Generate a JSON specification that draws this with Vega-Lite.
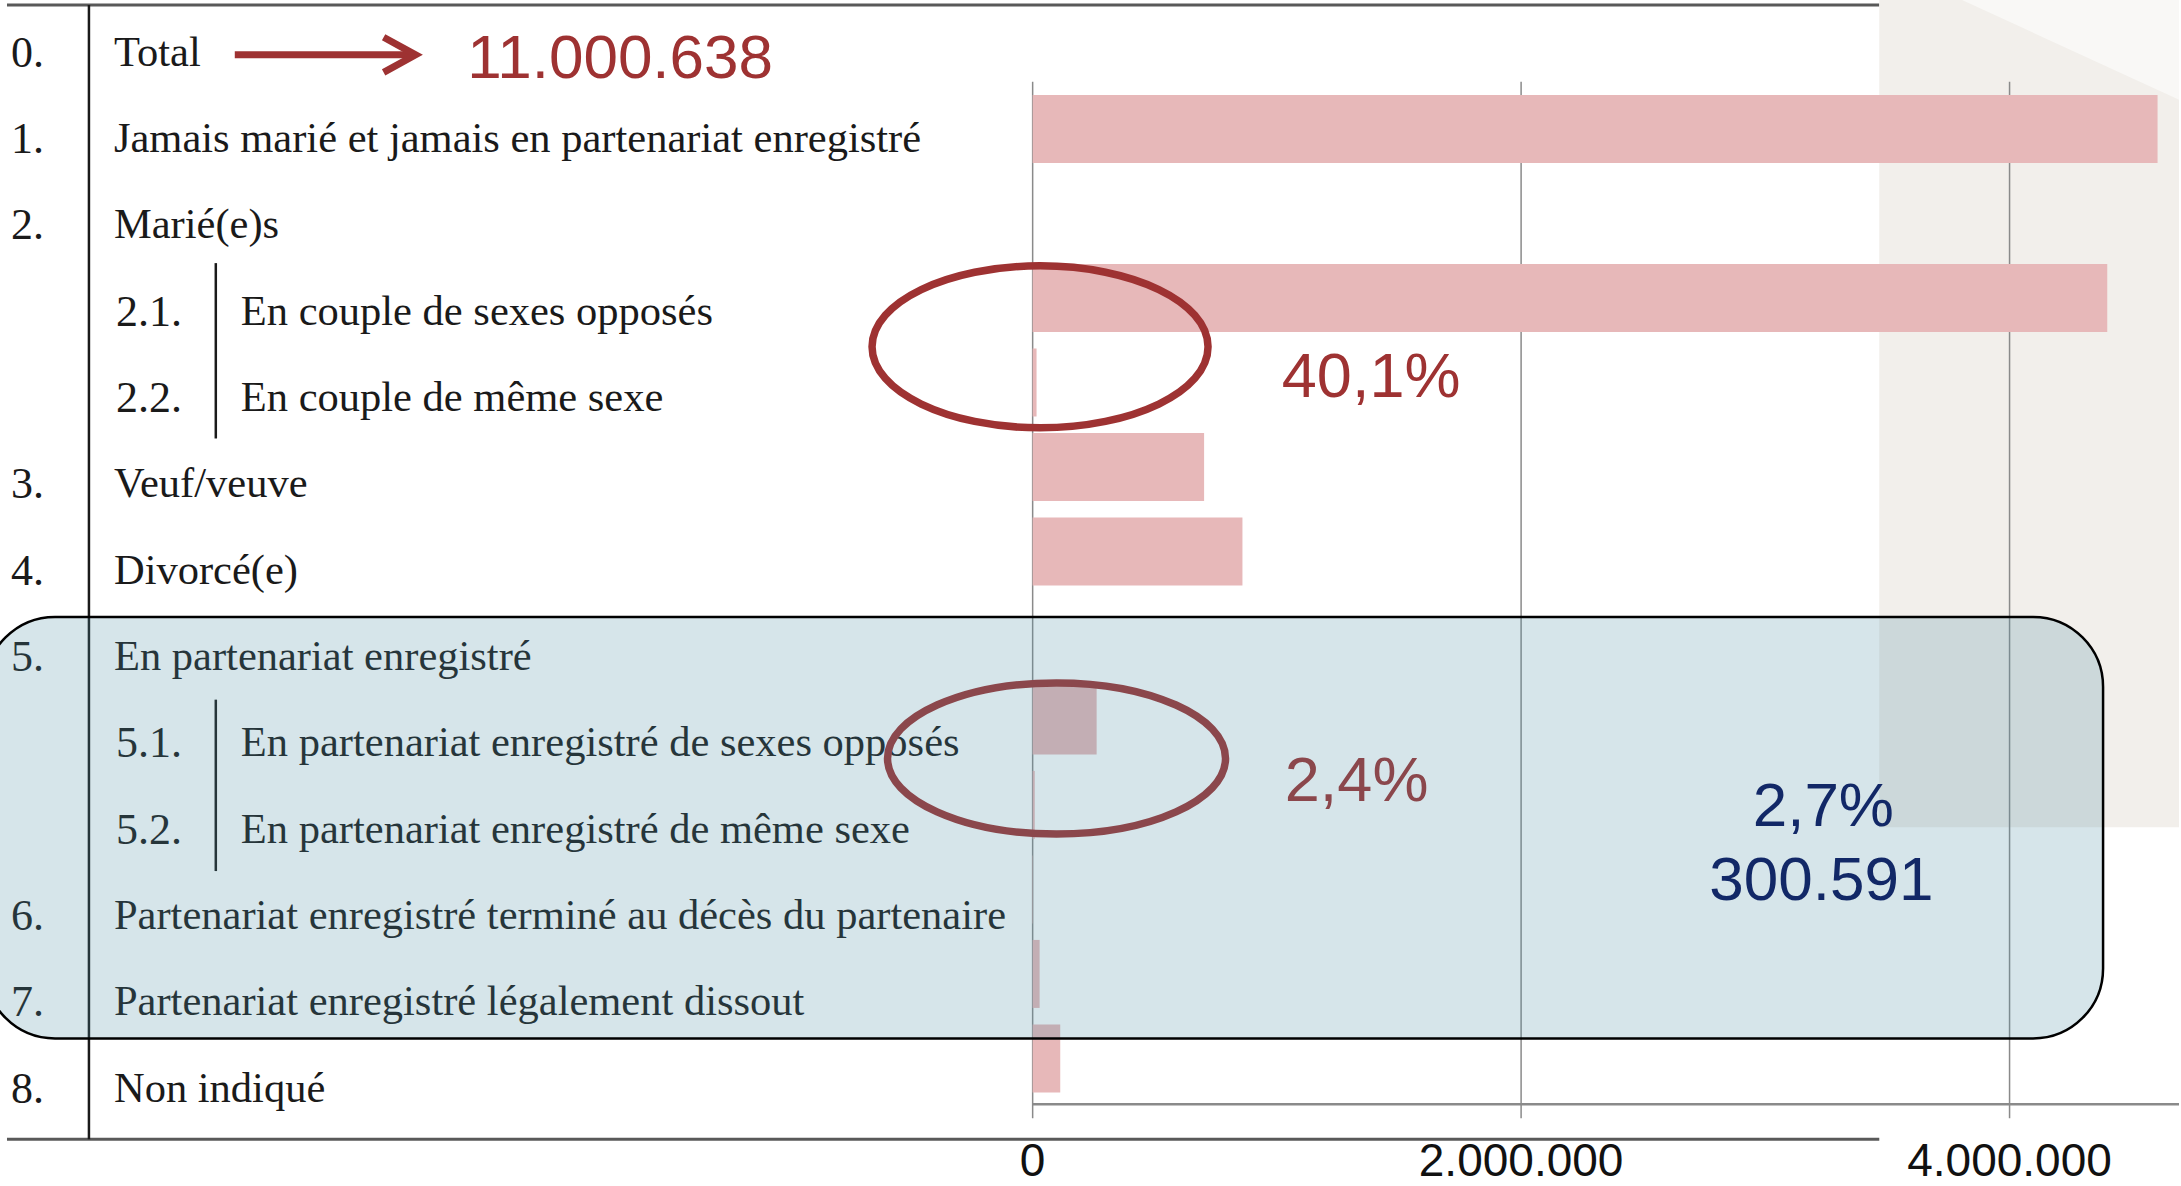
{
  "$schema": "https://vega.github.io/schema/vega-lite/v6.json",
  "width": 2181,
  "height": 1186,
  "autosize": {"type": "fit", "contains": "padding"},
  "padding": 0,
  "background": "#ffffff",
  "config": {"view": {"stroke": null}, "axis": {"disable": true}},
  "datasets": {
    "rows": [
      {"row": 0, "code": "0.", "label": "Total", "level": 0, "value": null},
      {"row": 1, "code": "1.", "label": "Jamais marié et jamais en partenariat enregistré", "level": 0, "value": 4606000},
      {"row": 2, "code": "2.", "label": "Marié(e)s", "level": 0, "value": null},
      {"row": 3, "code": "2.1.", "label": "En couple de sexes opposés", "level": 1, "value": 4400000},
      {"row": 4, "code": "2.2.", "label": "En couple de même sexe", "level": 1, "value": 16000},
      {"row": 5, "code": "3.", "label": "Veuf/veuve", "level": 0, "value": 702000},
      {"row": 6, "code": "4.", "label": "Divorcé(e)", "level": 0, "value": 859000},
      {"row": 7, "code": "5.", "label": "En partenariat enregistré", "level": 0, "value": null},
      {"row": 8, "code": "5.1.", "label": "En partenariat enregistré de sexes opposés", "level": 1, "value": 262000},
      {"row": 9, "code": "5.2.", "label": "En partenariat enregistré de même sexe", "level": 1, "value": 8500},
      {"row": 10, "code": "6.", "label": "Partenariat enregistré terminé au décès du partenaire", "level": 0, "value": 1500},
      {"row": 11, "code": "7.", "label": "Partenariat enregistré légalement dissout", "level": 0, "value": 28500},
      {"row": 12, "code": "8.", "label": "Non indiqué", "level": 0, "value": 113000}
    ],
    "ticks": [
      {"value": 0, "label": "0"},
      {"value": 2000000, "label": "2.000.000"},
      {"value": 4000000, "label": "4.000.000"}
    ],
    "one": [{}]
  },
  "data": {"name": "rows"},
  "resolve": {"scale": {"y": "independent"}},
  "layer": [
    {
      "layer": [
        {
          "data": {"name": "one"},
          "mark": {"type": "rule", "stroke": "#595959", "strokeWidth": 3},
          "encoding": {
            "x": {"datum": -4199636, "type": "quantitative", "scale": {"domain": [-4228251, 4693784], "nice": false, "zero": false}},
            "x2": {"datum": 3466544},
            "y": {"datum": -0.5427, "type": "quantitative", "scale": {"domain": [-0.6005, 13.0947], "reverse": true, "nice": false, "zero": false}}
          }
        },
        {
          "data": {"name": "one"},
          "mark": {"type": "rule", "stroke": "#595959", "strokeWidth": 3},
          "encoding": {
            "x": {"datum": -4199636, "type": "quantitative", "scale": {"domain": [-4228251, 4693784], "nice": false, "zero": false}},
            "x2": {"datum": 3466544},
            "y": {"datum": 12.598, "type": "quantitative", "scale": {"domain": [-0.6005, 13.0947], "reverse": true, "nice": false, "zero": false}}
          }
        },
        {
          "data": {"name": "one"},
          "mark": {"type": "rule", "stroke": "#1a1a1a", "strokeWidth": 2.5},
          "encoding": {
            "x": {"datum": -3864060, "type": "quantitative", "scale": {"domain": [-4228251, 4693784], "nice": false, "zero": false}},
            "y": {"datum": -0.5427, "type": "quantitative", "scale": {"domain": [-0.6005, 13.0947], "reverse": true, "nice": false, "zero": false}},
            "y2": {"datum": 12.598}
          }
        },
        {
          "data": {"name": "one"},
          "mark": {"type": "rule", "stroke": "#1a1a1a", "strokeWidth": 2.5},
          "encoding": {
            "x": {"datum": -3344638, "type": "quantitative", "scale": {"domain": [-4228251, 4693784], "nice": false, "zero": false}},
            "y": {"datum": 2.448, "type": "quantitative", "scale": {"domain": [-0.6005, 13.0947], "reverse": true, "nice": false, "zero": false}},
            "y2": {"datum": 4.48}
          }
        },
        {
          "data": {"name": "one"},
          "mark": {"type": "rule", "stroke": "#1a1a1a", "strokeWidth": 2.5},
          "encoding": {
            "x": {"datum": -3344638, "type": "quantitative", "scale": {"domain": [-4228251, 4693784], "nice": false, "zero": false}},
            "y": {"datum": 7.506, "type": "quantitative", "scale": {"domain": [-0.6005, 13.0947], "reverse": true, "nice": false, "zero": false}},
            "y2": {"datum": 9.492}
          }
        },
        {
          "data": {"name": "one"},
          "mark": {"type": "rect", "fill": "#f2efeb"},
          "encoding": {
            "x": {"datum": 3466544, "type": "quantitative", "scale": {"domain": [-4228251, 4693784], "nice": false, "zero": false}},
            "x2": {"datum": 4693784},
            "y": {"datum": -0.6005, "type": "quantitative", "scale": {"domain": [-0.6005, 13.0947], "reverse": true, "nice": false, "zero": false}},
            "y2": {"datum": 8.984}
          }
        },
        {
          "data": {"name": "one"},
          "mark": {"type": "point", "shape": "M -1 0 L 1 0 L 1 0.92 Z", "size": 47089, "filled": true, "fill": "#f9f8f6", "strokeWidth": 0, "opacity": 1},
          "encoding": {
            "x": {"datum": 4249930, "type": "quantitative", "scale": {"domain": [-4228251, 4693784], "nice": false, "zero": false}},
            "y": {"datum": -0.6005, "type": "quantitative", "scale": {"domain": [-0.6005, 13.0947], "reverse": true, "nice": false, "zero": false}}
          }
        },
        {
          "data": {"name": "ticks"},
          "mark": {"type": "rule", "stroke": "#8a8a8a", "strokeWidth": 1.5},
          "encoding": {
            "x": {"field": "value", "type": "quantitative", "scale": {"domain": [-4228251, 4693784], "nice": false, "zero": false}},
            "y": {"datum": 0.3464, "type": "quantitative", "scale": {"domain": [-0.6005, 13.0947], "reverse": true, "nice": false, "zero": false}},
            "y2": {"datum": 12.356}
          }
        },
        {
          "data": {"name": "one"},
          "mark": {"type": "rule", "stroke": "#8a8a8a", "strokeWidth": 2.5},
          "encoding": {
            "x": {"datum": 0, "type": "quantitative", "scale": {"domain": [-4228251, 4693784], "nice": false, "zero": false}},
            "x2": {"datum": 4693784},
            "y": {"datum": 12.194, "type": "quantitative", "scale": {"domain": [-0.6005, 13.0947], "reverse": true, "nice": false, "zero": false}}
          }
        },
        {
          "data": {"name": "ticks"},
          "mark": {"type": "text", "font": "Liberation Sans", "fontSize": 46, "align": "center", "baseline": "alphabetic", "fill": "#111111"},
          "encoding": {
            "x": {"field": "value", "type": "quantitative", "scale": {"domain": [-4228251, 4693784], "nice": false, "zero": false}},
            "y": {"datum": 13.03, "type": "quantitative", "scale": {"domain": [-0.6005, 13.0947], "reverse": true, "nice": false, "zero": false}},
            "text": {"field": "label"}
          }
        }
      ]
    },
    {
      "transform": [{"filter": "datum.value != null"}],
      "mark": {"type": "bar", "orient": "horizontal", "height": 68, "color": "#e7b8b9"},
      "encoding": {
        "x": {"field": "value", "type": "quantitative", "scale": {"domain": [-4228251, 4693784], "nice": false, "zero": false}},
        "x2": {"datum": 0},
        "y": {"field": "row", "type": "quantitative", "scale": {"domain": [-0.4678, 13.4035], "reverse": true, "nice": false, "zero": false}}
      }
    },
    {
      "layer": [
        {
          "transform": [{"filter": "datum.level == 0"}],
          "mark": {"type": "text", "font": "Liberation Serif", "fontSize": 44, "align": "left", "baseline": "alphabetic", "dy": 15, "fill": "#1a1a1a"},
          "encoding": {
            "x": {"datum": -4183273, "type": "quantitative", "scale": {"domain": [-4228251, 4693784], "nice": false, "zero": false}},
            "y": {"field": "row", "type": "quantitative", "scale": {"domain": [-0.6005, 13.0947], "reverse": true, "nice": false, "zero": false}},
            "text": {"field": "code"}
          }
        },
        {
          "transform": [{"filter": "datum.level == 1"}],
          "mark": {"type": "text", "font": "Liberation Serif", "fontSize": 44, "align": "left", "baseline": "alphabetic", "dy": 15, "fill": "#1a1a1a"},
          "encoding": {
            "x": {"datum": -3753409, "type": "quantitative", "scale": {"domain": [-4228251, 4693784], "nice": false, "zero": false}},
            "y": {"field": "row", "type": "quantitative", "scale": {"domain": [-0.6005, 13.0947], "reverse": true, "nice": false, "zero": false}},
            "text": {"field": "code"}
          }
        },
        {
          "transform": [{"filter": "datum.level == 0"}],
          "mark": {"type": "text", "font": "Liberation Serif", "fontSize": 42.5, "align": "left", "baseline": "alphabetic", "dy": 14, "fill": "#1a1a1a"},
          "encoding": {
            "x": {"datum": -3761591, "type": "quantitative", "scale": {"domain": [-4228251, 4693784], "nice": false, "zero": false}},
            "y": {"field": "row", "type": "quantitative", "scale": {"domain": [-0.6005, 13.0947], "reverse": true, "nice": false, "zero": false}},
            "text": {"field": "label"}
          }
        },
        {
          "transform": [{"filter": "datum.level == 1"}],
          "mark": {"type": "text", "font": "Liberation Serif", "fontSize": 42.5, "align": "left", "baseline": "alphabetic", "dy": 14, "fill": "#1a1a1a"},
          "encoding": {
            "x": {"datum": -3242059, "type": "quantitative", "scale": {"domain": [-4228251, 4693784], "nice": false, "zero": false}},
            "y": {"field": "row", "type": "quantitative", "scale": {"domain": [-0.6005, 13.0947], "reverse": true, "nice": false, "zero": false}},
            "text": {"field": "label"}
          }
        },
        {
          "data": {"name": "one"},
          "mark": {"type": "rule", "stroke": "#9e3232", "strokeWidth": 7},
          "encoding": {
            "x": {"datum": -3266911, "type": "quantitative", "scale": {"domain": [-4228251, 4693784], "nice": false, "zero": false}},
            "x2": {"datum": -2542833},
            "y": {"datum": 0.0346, "type": "quantitative", "scale": {"domain": [-0.6005, 13.0947], "reverse": true, "nice": false, "zero": false}}
          }
        },
        {
          "data": {"name": "one"},
          "mark": {"type": "point", "shape": "M -2 -1.1 L 0 0 L -2 1.1", "size": 1024, "filled": false, "stroke": "#9e3232", "strokeWidth": 7, "strokeJoin": "miter", "opacity": 1},
          "encoding": {
            "x": {"datum": -2526470, "type": "quantitative", "scale": {"domain": [-4228251, 4693784], "nice": false, "zero": false}},
            "y": {"datum": 0.0346, "type": "quantitative", "scale": {"domain": [-0.6005, 13.0947], "reverse": true, "nice": false, "zero": false}}
          }
        },
        {
          "data": {"name": "one"},
          "mark": {"type": "text", "text": "11.000.638", "font": "Liberation Sans", "fontSize": 62, "align": "left", "baseline": "alphabetic", "fill": "#9e3232"},
          "encoding": {
            "x": {"datum": -2314688, "type": "quantitative", "scale": {"domain": [-4228251, 4693784], "nice": false, "zero": false}},
            "y": {"datum": 0.3, "type": "quantitative", "scale": {"domain": [-0.6005, 13.0947], "reverse": true, "nice": false, "zero": false}}
          }
        },
        {
          "data": {"name": "one"},
          "mark": {"type": "point", "shape": "M -1 0 A 1 0.482 0 1 0 1 0 A 1 0.482 0 1 0 -1 0 Z", "size": 112896, "filled": false, "stroke": "#9e3232", "strokeWidth": 7.5, "opacity": 1},
          "encoding": {
            "x": {"datum": 30272, "type": "quantitative", "scale": {"domain": [-4228251, 4693784], "nice": false, "zero": false}},
            "y": {"datum": 3.418, "type": "quantitative", "scale": {"domain": [-0.6005, 13.0947], "reverse": true, "nice": false, "zero": false}}
          }
        },
        {
          "data": {"name": "one"},
          "mark": {"type": "text", "text": "40,1%", "font": "Liberation Sans", "fontSize": 63, "align": "left", "baseline": "alphabetic", "fill": "#9e3232"},
          "encoding": {
            "x": {"datum": 1020246, "type": "quantitative", "scale": {"domain": [-4228251, 4693784], "nice": false, "zero": false}},
            "y": {"datum": 3.995, "type": "quantitative", "scale": {"domain": [-0.6005, 13.0947], "reverse": true, "nice": false, "zero": false}}
          }
        },
        {
          "data": {"name": "one"},
          "mark": {"type": "point", "shape": "M -1 0 A 1 0.447 0 1 0 1 0 A 1 0.447 0 1 0 -1 0 Z", "size": 114244, "filled": false, "stroke": "#9e3232", "strokeWidth": 7.5, "opacity": 1},
          "encoding": {
            "x": {"datum": 97770, "type": "quantitative", "scale": {"domain": [-4228251, 4693784], "nice": false, "zero": false}},
            "y": {"datum": 8.187, "type": "quantitative", "scale": {"domain": [-0.6005, 13.0947], "reverse": true, "nice": false, "zero": false}}
          }
        },
        {
          "data": {"name": "one"},
          "mark": {"type": "text", "text": "2,4%", "font": "Liberation Sans", "fontSize": 63, "align": "left", "baseline": "alphabetic", "fill": "#9e3232"},
          "encoding": {
            "x": {"datum": 1032518, "type": "quantitative", "scale": {"domain": [-4228251, 4693784], "nice": false, "zero": false}},
            "y": {"datum": 8.684, "type": "quantitative", "scale": {"domain": [-0.6005, 13.0947], "reverse": true, "nice": false, "zero": false}}
          }
        },
        {
          "data": {"name": "one"},
          "mark": {"type": "text", "text": "2,7%", "font": "Liberation Sans", "fontSize": 62, "align": "center", "baseline": "alphabetic", "fill": "#000a55"},
          "encoding": {
            "x": {"datum": 3237459, "type": "quantitative", "scale": {"domain": [-4228251, 4693784], "nice": false, "zero": false}},
            "y": {"datum": 8.972, "type": "quantitative", "scale": {"domain": [-0.6005, 13.0947], "reverse": true, "nice": false, "zero": false}}
          }
        },
        {
          "data": {"name": "one"},
          "mark": {"type": "text", "text": "300.591", "font": "Liberation Sans", "fontSize": 62, "align": "center", "baseline": "alphabetic", "fill": "#000a55"},
          "encoding": {
            "x": {"datum": 3229278, "type": "quantitative", "scale": {"domain": [-4228251, 4693784], "nice": false, "zero": false}},
            "y": {"datum": 9.827, "type": "quantitative", "scale": {"domain": [-0.6005, 13.0947], "reverse": true, "nice": false, "zero": false}}
          }
        },
        {
          "data": {"name": "one"},
          "mark": {"type": "rect", "clip": true, "cornerRadius": 70, "fill": "#4d8ea4", "fillOpacity": 0.23, "stroke": "#000000", "strokeWidth": 2.5},
          "encoding": {
            "x": {"datum": -4289613, "type": "quantitative", "scale": {"domain": [-4228251, 4693784], "nice": false, "zero": false}},
            "x2": {"datum": 4382883},
            "y": {"datum": 6.547, "type": "quantitative", "scale": {"domain": [-0.6005, 13.0947], "reverse": true, "nice": false, "zero": false}},
            "y2": {"datum": 11.432}
          }
        }
      ]
    }
  ]
}
